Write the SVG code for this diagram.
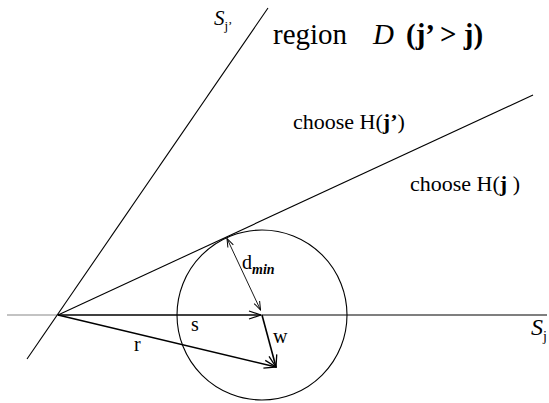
<svg xmlns="http://www.w3.org/2000/svg" width="549" height="403" viewBox="0 0 549 403">
<style>
text{font-family:"Liberation Serif","Times New Roman",serif;fill:#000}
.it{font-style:italic}
.b{font-weight:bold}
.ln{fill:none;stroke:#000;stroke-width:1.1}
.vec{fill:none;stroke:#000;stroke-width:1.6;marker-end:url(#chev)}
</style>
<defs>
<marker id="chev" viewBox="0 0 14 10" refX="13" refY="5" markerWidth="14" markerHeight="10" orient="auto" markerUnits="userSpaceOnUse">
<path d="M1,1 L13,5 L1,9" fill="none" stroke="#000" stroke-width="1.3"/>
</marker>
<marker id="chevs" viewBox="0 0 10 8" refX="9.5" refY="4" markerWidth="10" markerHeight="8" orient="auto-start-reverse" markerUnits="userSpaceOnUse">
<path d="M1,1 L9.5,4 L1,7" fill="none" stroke="#000" stroke-width="1"/>
</marker>
</defs>
<rect width="549" height="403" fill="#fff"/>
<g id="connectors">
<line x1="7" y1="315" x2="58" y2="315" stroke="#888" stroke-width="1.2"/>
<line class="ln" x1="262" y1="315" x2="547" y2="315"/>
<line id="Sjp-line" class="ln" x1="27" y1="359" x2="268" y2="8"/>
<line id="boundary" class="ln" x1="58" y1="315" x2="533" y2="95"/>
<circle id="circle" class="ln" cx="262" cy="315" r="85"/>
<line id="s" class="vec" x1="58" y1="315" x2="261" y2="315" stroke-width="2.2"/>
<line id="r" class="vec" x1="58" y1="315" x2="276" y2="367"/>
<line id="w" class="vec" x1="262" y1="315" x2="276" y2="367"/>
<line id="dmin" x1="227" y1="238.5" x2="260.5" y2="310" fill="none" stroke="#000" stroke-width="0.9" marker-start="url(#chevs)" marker-end="url(#chevs)"/>
</g>
<g id="label-Sjp"><text x="214" y="25" font-size="21" class="it">S<tspan font-size="13" dy="5" font-style="normal">j’</tspan></text></g>
<g id="title">
<text x="273" y="44" font-size="29">region</text>
<text x="373" y="44" font-size="29" class="it">D</text>
<text x="406" y="44" font-size="29" class="b">(j’ &gt; j)</text>
</g>
<g id="label-Hjp"><text x="293" y="129" font-size="22">choose H(<tspan class="b">j’</tspan>)</text></g>
<g id="label-Hj"><text x="410" y="191" font-size="22">choose H(<tspan class="b">j</tspan> )</text></g>
<g id="label-dmin"><text x="242" y="269" font-size="20">d<tspan font-size="14" class="it b" dy="5">min</tspan></text></g>
<g id="label-s"><text x="191" y="331" font-size="20">s</text></g>
<g id="label-w"><text x="273" y="343" font-size="20">w</text></g>
<g id="label-r"><text x="134" y="351" font-size="20">r</text></g>
<g id="label-Sj"><text x="531" y="335" font-size="24" class="it">S<tspan font-size="14" dy="6" font-style="normal">j</tspan></text></g>
</svg>
